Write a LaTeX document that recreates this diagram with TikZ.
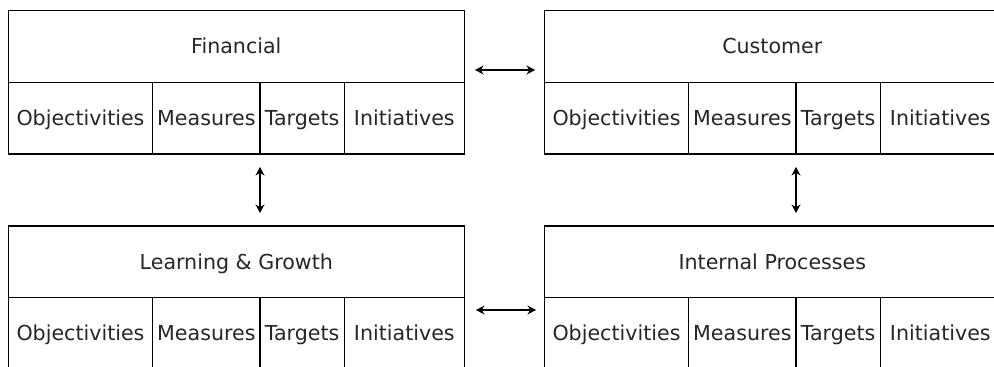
\documentclass[tikz,border=0pt]{standalone}
\usepackage{fontspec}
\setmainfont{DejaVu Sans}
\usetikzlibrary{arrows.meta}
\tikzset{
  cellbox/.style={draw=black, line width=1.3pt, minimum height=71.7pt, inner sep=0pt, outer sep=0pt,
    anchor=north west, font=\fontsize{20.6}{24}\selectfont, text=black!85,
    text height=16pt, text depth=1.5pt},
  arr/.style={{Stealth[length=8.5pt,width=9pt]}-{Stealth[length=8.5pt,width=9pt]}, line width=1.3pt}
}
\newcommand{\perspectivebox}[4]{%
  \node[cellbox, minimum width=456pt] (#1h) at (#2,#3) {#4};
  \node[cellbox, minimum width=144.4pt] (#1o) at (#1h.south west) {Objectivities};
  \node[cellbox, minimum width=107.3pt] (#1m) at (#1o.north east) {Measures};
  \node[cellbox, minimum width=84.3pt] (#1t) at (#1m.north east) {Targets};
  \node[cellbox, minimum width=120pt] (#1i) at (#1t.north east) {Initiatives};
}
\begin{document}
\begin{tikzpicture}[x=1pt, y=-1pt]
  \clip (0,0) rectangle (994,367);
  \fill[white] (0,0) rectangle (994,367);
  \perspectivebox{fin}{8.3}{10.7}{Financial}
  \perspectivebox{cus}{544.3}{10.7}{Customer}
  \perspectivebox{lea}{8.3}{226}{Learning \& Growth}
  \perspectivebox{int}{544.3}{226}{Internal Processes}
  \coordinate (fc1) at (475,70);
  \coordinate (fc2) at (535,70);
  \coordinate (li1) at (476,310);
  \coordinate (li2) at (536,310);
  \coordinate (fl1) at (260,167);
  \coordinate (fl2) at (260,213);
  \coordinate (ci1) at (796,167);
  \coordinate (ci2) at (796,213);
  \draw[arr] (fc1) -- (fc2);
  \draw[arr] (li1) -- (li2);
  \draw[arr] (fl1) -- (fl2);
  \draw[arr] (ci1) -- (ci2);
\end{tikzpicture}
\end{document}
